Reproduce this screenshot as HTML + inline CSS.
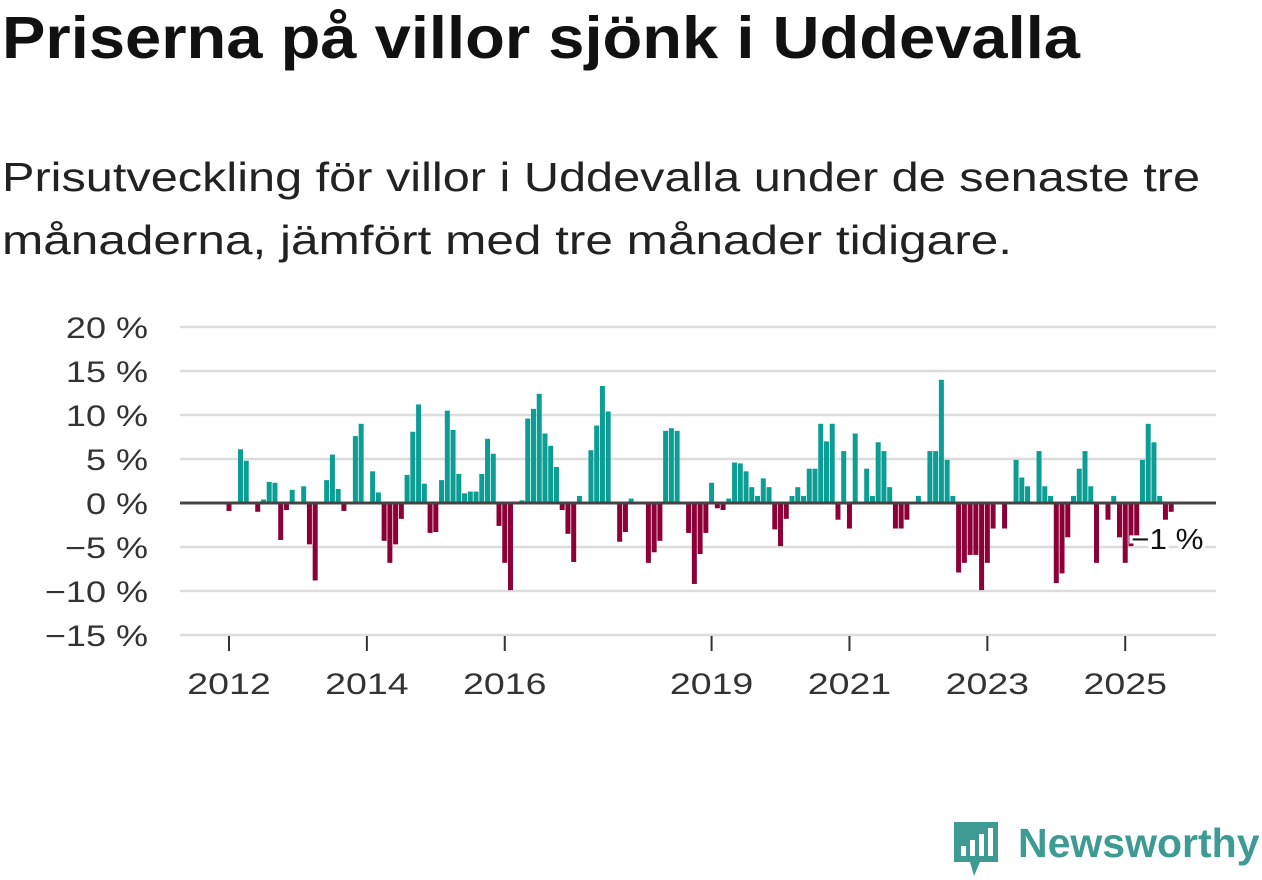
<!DOCTYPE html>
<html><head><meta charset="utf-8">
<style>
body{margin:0;background:#fff;width:1262px;height:879px;overflow:hidden;font-family:"Liberation Sans",sans-serif;}
.st{position:absolute;left:2px;margin:0;white-space:nowrap;transform-origin:0 0;}
#title{top:4px;font-size:59px;font-weight:bold;color:#111;}
.sub{font-size:41px;color:#222;}
svg{position:absolute;left:0;top:0;}
</style></head><body>
<div id="title" class="st" data-w="1078">Priserna på villor sjönk i Uddevalla</div>
<div class="st sub" style="top:154px" data-w="1198">Prisutveckling för villor i Uddevalla under de senaste tre</div>
<div class="st sub" style="top:217px" data-w="1010">månaderna, jämfört med tre månader tidigare.</div>
<svg id="chart" width="1262" height="879"></svg>
<div style="position:absolute;left:950px;top:818px;width:310px;height:62px;">
<svg width="52" height="62" style="position:absolute;left:0;top:0">
<path d="M4 4 H48 V44 H30 L24 58 L20 44 H4 Z" fill="#3d9b94"/>
<rect x="11" y="28" width="5" height="10" fill="#fff"/><rect x="20" y="22" width="5" height="16" fill="#fff"/><rect x="29" y="16" width="5" height="22" fill="#fff"/><rect x="38" y="10" width="5" height="28" fill="#fff"/>
</svg>
<span style="position:absolute;left:68px;top:2px;font-size:41px;font-weight:bold;color:#3d9b94;">Newsworthy</span>
</div>
<script>
const values=[-0.9,0,6.1,4.8,0,-1.0,0.4,2.4,2.3,-4.2,-0.8,1.5,0,1.9,-4.7,-8.8,0,2.6,5.5,1.6,-0.9,0,7.6,9.0,0,3.6,1.2,-4.3,-6.8,-4.7,-1.8,3.2,8.1,11.2,2.2,-3.4,-3.3,2.6,10.5,8.3,3.3,1.1,1.3,1.3,3.3,7.3,5.6,-2.6,-6.8,-9.9,0,0.3,9.6,10.7,12.4,7.9,
6.5,4.1,-0.8,-3.5,-6.7,0.8,0,6.0,8.8,13.3,10.4,0,-4.4,-3.3,0.5,0,0,-6.8,-5.6,-4.3,8.2,8.5,8.2,0,-3.4,-9.2,-5.8,-3.4,2.3,-0.6,-0.8,0.5,4.6,4.5,3.6,1.8,0.8,2.8,1.8,-3.0,-4.9,-1.8,0.8,1.8,0.8,3.9,3.9,9.0,7.0,9.0,-1.9,5.9,-2.9,7.9,0,3.9,0.8,
6.9,5.9,1.8,-2.9,-2.9,-1.9,0,0.8,0,5.9,5.9,14.0,4.9,0.8,-7.9,-6.8,-5.9,-5.9,-9.9,-6.8,-2.9,0,-2.9,0,4.9,2.9,1.9,0,5.9,1.9,0.8,-9.1,-8.0,-3.9,0.8,3.9,5.9,1.9,-6.8,0,-1.9,0.8,-3.9,-6.8,-4.9,-3.9,4.9,9.0,6.9,0.8,-1.9,-1.0];
const startYear=2012;
const yTicks=[20,15,10,5,0,-5,-10,-15];
const xTickYears=[2012,2014,2016,2019,2021,2023,2025];
const lastLabel="\u22121 %";
document.querySelectorAll('.st').forEach(el=>{const w=el.getBoundingClientRect().width;el.style.transform='scaleX('+(+el.dataset.w/w)+')';});
const NS="http://www.w3.org/2000/svg";
const svg=document.getElementById('chart');
const x=i=>229+i*5.745;
const y=v=>503-v*8.8;
function mk(t,a){const e=document.createElementNS(NS,t);for(const k in a)e.setAttribute(k,a[k]);svg.appendChild(e);return e;}
function widen(t,f){const w=t.getComputedTextLength();t.setAttribute('textLength',w*f);t.setAttribute('lengthAdjust','spacingAndGlyphs');}
yTicks.forEach(t=>{
 if(t!==0){const l=mk('line',{x1:180,x2:1216,y1:y(t),y2:y(t),stroke:'#dcdcdc','stroke-width':2.5});
 
 }
 const tx=mk('text',{x:148,y:y(t)+11,'text-anchor':'end','font-size':30,fill:'#333','font-family':'Liberation Sans, sans-serif'});
 tx.textContent=(t<0?'\u2212'+(-t):t)+' %';
 
 
 widen(tx,1.2);
});
values.forEach((v,i)=>{
 if(v===0)return;
 const r=mk('rect',{x:x(i)-2.5,width:5,y:v>0?y(v):y(0),height:Math.abs(v)*8.8,fill:v>0?'#0c9e94':'#8c0037'});
 
 
});
const z=mk('line',{x1:180,x2:1216,y1:y(0),y2:y(0),stroke:'#444','stroke-width':3});


xTickYears.forEach(yr=>{
 const xi=x((yr-startYear)*12);
 const tk=mk('line',{x1:xi,x2:xi,y1:636,y2:651,stroke:'#333','stroke-width':2});
 
 
 const tx=mk('text',{x:xi,y:694,'text-anchor':'middle','font-size':30,fill:'#333','font-family':'Liberation Sans, sans-serif'});
 tx.textContent=yr;
 
 
 widen(tx,1.25);
});
const lx=x(values.length-1)-40;
const lb=mk('text',{x:lx,y:549,'font-size':29,fill:'#111',stroke:'#fff','stroke-width':6,'paint-order':'stroke','font-family':'Liberation Sans, sans-serif'});
lb.textContent=lastLabel;


widen(lb,1.08);
</script>
</body></html>
